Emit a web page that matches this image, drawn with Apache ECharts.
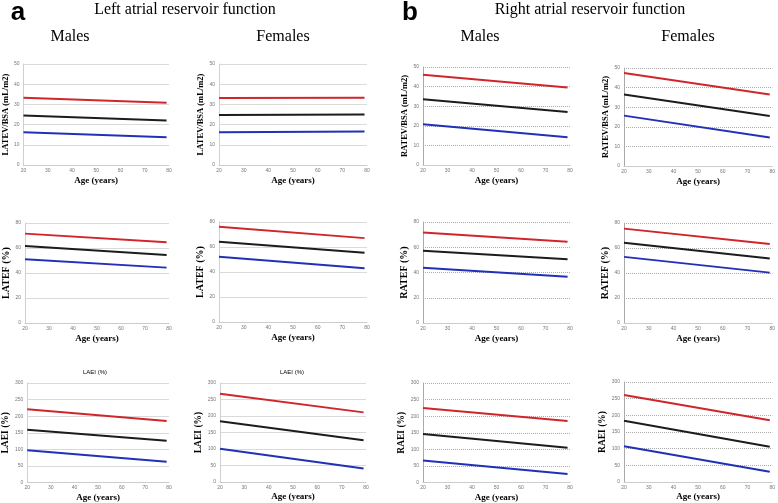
<!DOCTYPE html>
<html><head><meta charset="utf-8">
<script src="https://cdn.jsdelivr.net/npm/echarts@6/dist/echarts.min.js"></script>
<style>html,body{margin:0;padding:0;background:#fff}#c{width:778px;height:503px}</style>
</head><body><div id="c"></div>
<script>
// Age endpoints of fitted lines
const ages = [20, 79];
const xTicks = [20, 30, 40, 50, 60, 70, 80];

// Row 1: atrial reservoir volume indexed to BSA (mL/m2) — [age 20, age 79]
const laVolMaleUpper = [33.3, 30.8], laVolMaleMean = [24.5, 22.0], laVolMaleLower = [16.2, 13.7];
const laVolFemUpper  = [33.2, 33.3], laVolFemMean  = [24.8, 25.0], laVolFemLower  = [16.2, 16.6];
const raVolMaleUpper = [46.0, 39.5], raVolMaleMean = [33.5, 27.0], raVolMaleLower = [20.8, 14.2];
const raVolFemUpper  = [47.5, 36.5], raVolFemMean  = [36.5, 25.5], raVolFemLower  = [25.7, 14.5];

// Row 2: emptying fraction (%)
const laEfMaleUpper = [71.5, 64.6], laEfMaleMean = [61.6, 54.4], laEfMaleLower = [51.0, 44.3];
const laEfFemUpper  = [76.2, 67.1], laEfFemMean  = [64.2, 55.4], laEfFemLower  = [52.2, 43.0];
const raEfMaleUpper = [71.6, 64.3], raEfMaleMean = [57.3, 50.5], raEfMaleLower = [43.7, 36.6];
const raEfFemUpper  = [75.5, 63.2], raEfFemMean  = [64.2, 51.6], raEfFemLower  = [52.9, 40.3];

// Row 3: expansion index (%)
const laEiMaleUpper = [221, 185.6], laEiMaleMean = [158.8, 126], laEiMaleLower = [97, 62.5];
const laEiFemUpper  = [267.7, 211], laEiFemMean  = [184, 126.8], laEiFemLower  = [100.7, 41];
const raEiMaleUpper = [224.5, 185.6], raEiMaleMean = [146, 105], raEiMaleLower = [66.4, 25.6];
const raEiFemUpper  = [261, 185], raEiFemMean  = [184, 106], raEiFemLower  = [107, 30.9];

const yNames = ['LATEV/BSA (mL/m2)', 'LATEF (%)', 'LAEI (%)', 'RATEV/BSA (mL/m2)', 'RATEF (%)', 'RAEI (%)'];

const panels = [
  {g:[22,64,147,101],  yMax:50, yInt:10, name:yNames[0], row:0, side:'L', d:[laVolMaleUpper, laVolMaleMean, laVolMaleLower]},
  {g:[219,64,148,101], yMax:50, yInt:10, name:yNames[0], row:0, side:'L', d:[laVolFemUpper, laVolFemMean, laVolFemLower]},
  {g:[423,67,147,98],  yMax:50, yInt:10, name:yNames[3], row:0, side:'R', d:[raVolMaleUpper, raVolMaleMean, raVolMaleLower]},
  {g:[624,68,149,98],  yMax:50, yInt:10, name:yNames[3], row:0, side:'R', d:[raVolFemUpper, raVolFemMean, raVolFemLower]},
  {g:[23,223,146,100], yMax:80, yInt:20, name:yNames[1], row:1, side:'L', d:[laEfMaleUpper, laEfMaleMean, laEfMaleLower]},
  {g:[219,222,148,100],yMax:80, yInt:20, name:yNames[1], row:1, side:'L', d:[laEfFemUpper, laEfFemMean, laEfFemLower]},
  {g:[423,222,147,101],yMax:80, yInt:20, name:yNames[4], row:1, side:'R', d:[raEfMaleUpper, raEfMaleMean, raEfMaleLower]},
  {g:[624,223,149,100],yMax:80, yInt:20, name:yNames[4], row:1, side:'R', d:[raEfFemUpper, raEfFemMean, raEfFemLower]},
  {g:[22,383,147,100], yMax:300, yInt:50, name:yNames[2], row:2, side:'L', d:[laEiMaleUpper, laEiMaleMean, laEiMaleLower]},
  {g:[220,383,146,99], yMax:300, yInt:50, name:yNames[2], row:2, side:'L', d:[laEiFemUpper, laEiFemMean, laEiFemLower]},
  {g:[423,383,147,100],yMax:300, yInt:50, name:yNames[5], row:2, side:'R', d:[raEiMaleUpper, raEiMaleMean, raEiMaleLower]},
  {g:[624,382,149,100],yMax:300, yInt:50, name:yNames[5], row:2, side:'R', d:[raEiFemUpper, raEiFemMean, raEiFemLower]}
];
const rowStyle = [
  {yfs:8.5, ygap:13, xgap:11.5},
  {yfs:10,  ygap:14, xgap:11.5},
  {yfs:9.5, ygap:13.5, xgap:10.5}
];
const colors = ['#d0262b', '#1c1c1c', '#2230b8'];
const serif = '"Liberation Serif", "DejaVu Serif", serif';

const grid = [], xAxis = [], yAxis = [], series = [];
panels.forEach((p, i) => {
  const rs = rowStyle[p.row];
  grid.push({left:p.g[0], top:p.g[1], width:p.g[2], height:p.g[3]});
  const gl = p.side === 'L' ? {color:'#dadada', type:'solid', width:1} : {color:'#aaa', type:'dotted', width:1};
  xAxis.push({type:'value', gridIndex:i, min:20, max:80, interval:10,
    name:'Age (years)', nameLocation:'middle', nameGap:rs.xgap,
    nameTextStyle:{fontFamily:serif, fontWeight:'bold', fontSize:9, color:'#000'},
    axisLine:{lineStyle:{color:'#ccc'}}, axisTick:{show:false},
    axisLabel:{fontSize:5, color:'#777', margin:3},
    splitLine:{show:false}});
  yAxis.push({type:'value', gridIndex:i, min:0, max:p.yMax, interval:p.yInt,
    name:p.name, nameLocation:'middle', nameGap:rs.ygap, nameRotate:90,
    nameTextStyle:{fontFamily:serif, fontWeight:'bold', fontSize:rs.yfs, color:'#000'},
    axisLine:{show:true, lineStyle:{color: p.side==='L' ? '#d0d0d0' : '#aaa'}}, axisTick:{show:false},
    axisLabel:{fontSize:5, color:'#777', margin:4},
    splitLine:{show:true, lineStyle:gl}});
  p.d.forEach((arr, k) => {
    series.push({type:'line', xAxisIndex:i, yAxisIndex:i, showSymbol:false, silent:true,
      data: ages.map((a, j) => [a, arr[j]]),
      lineStyle:{color:colors[k], width:2}});
  });
});

const txt = (x, y, t, fs, fw, ff, align) => ({type:'text', x, y,
  style:{text:t, fontSize:fs, fontWeight:fw||'normal', fontFamily:ff||serif, fill:'#000', textAlign:align||'center', textVerticalAlign:'middle'}});

const chart = echarts.init(document.getElementById('c'), null, {renderer:'canvas'});
chart.setOption({
  animation:false,
  grid, xAxis, yAxis, series,
  graphic:[
    txt(18, 13, 'a', 26, 'bold', '"Liberation Sans", Arial, sans-serif'),
    txt(185, 10, 'Left atrial reservoir function', 16),
    txt(410, 13, 'b', 26, 'bold', '"Liberation Sans", Arial, sans-serif'),
    txt(590, 10, 'Right atrial reservoir function', 16),
    txt(70, 37, 'Males', 16),
    txt(283, 37, 'Females', 16),
    txt(480, 37, 'Males', 16),
    txt(688, 37, 'Females', 16),
    txt(95, 372, 'LAEI (%)', 6, 'normal', '"Liberation Sans", Arial, sans-serif'),
    txt(292, 372, 'LAEI (%)', 6, 'normal', '"Liberation Sans", Arial, sans-serif')
  ]
});
</script></body></html>
